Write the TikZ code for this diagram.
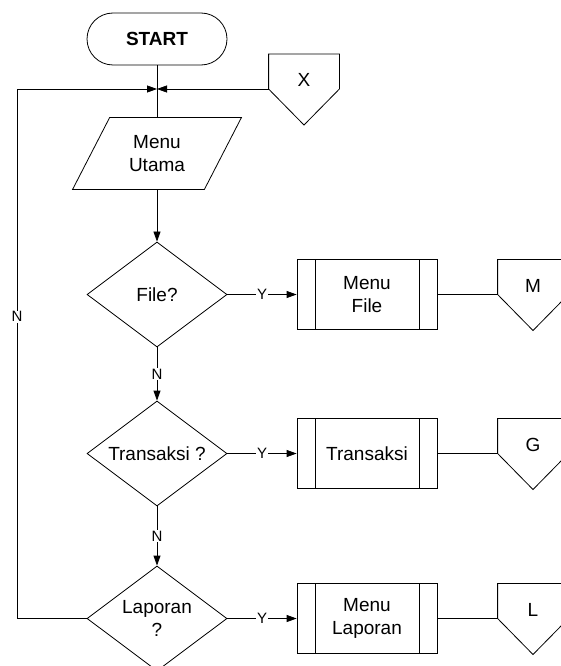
\documentclass[tikz,border=0pt]{standalone}
\usepackage{fontspec}
\setmainfont{Liberation Sans}
\usetikzlibrary{arrows.meta}
\usetikzlibrary{shapes.geometric}

\newcommand{\drawoffpage}[1]{\draw (#1.north west) -- (#1.north east) -- ([yshift=-35pt]#1.north east) -- ([yshift=-71pt]#1.north) -- ([yshift=-35pt]#1.north west) -- cycle;}

\begin{document}
\begin{tikzpicture}[x=1pt, y=-1pt,
>={Triangle[length=10pt,width=7pt]},
font=\fontsize{19}{22.5}\selectfont,
line width=0.8pt]
\tikzstyle{ar} = [->]
\tikzstyle{lbl} = [fill=white, inner sep=1pt, font=\fontsize{15}{17}\selectfont]
\tikzstyle{term} = [draw, rounded corners=26pt, minimum width=140pt, minimum height=52pt, font=\fontsize{19}{22.5}\selectfont\bfseries]
\tikzstyle{dec} = [draw, diamond, aspect=1.333, inner sep=0pt, minimum width=140pt, minimum height=105pt, align=center]
\tikzstyle{sub} = [draw, minimum width=140pt, minimum height=70pt, align=center,
path picture={\draw ([xshift=18pt]path picture bounding box.north west) -- ([xshift=18pt]path picture bounding box.south west)
([xshift=-18pt]path picture bounding box.north east) -- ([xshift=-18pt]path picture bounding box.south east);}]
\tikzstyle{conn} = [anchor=north, minimum width=70pt, minimum height=52pt, inner sep=0pt]
\useasboundingbox (0,0) rectangle (560,666);

\node[term](start) at (157,39) {START};
\node[align=center, minimum width=131pt, minimum height=71pt](menu) at (157,153.5) {Menu\\Utama};
\draw ([xshift=18.5pt]menu.north west) -- ([xshift=18.5pt]menu.north east) --
([xshift=-18.5pt]menu.south east) -- ([xshift=-18.5pt]menu.south west) -- cycle;

\node[dec](file) at (157,294.5) {File?};
\node[dec](trans) at (157,453.5) {Transaksi ?};
\node[dec](lap) at (157,618.5) {Laporan\\?};

\node[sub](mfile) at (367,294.5) {Menu\\File};
\node[sub](mtrans) at (367,453.5) {Transaksi};
\node[sub](mlap) at (367,618.5) {Menu\\Laporan};

% off-page connectors
\node[conn](x) at (304,54) {X};
\node[conn](m) at (533,259.5) {M};
\node[conn](g) at (533,418.5) {G};
\node[conn](l) at (533,583.5) {L};
\drawoffpage{x}
\drawoffpage{m}
\drawoffpage{g}
\drawoffpage{l}

\coordinate(join) at (157,89);
\coordinate(loopT) at (17,89);
\coordinate(loopB) at (17,618.5);

\draw (start) -- (menu);
\draw[ar] (menu) -- (file);
\draw[ar] ([yshift=-35pt]x.north west) -- (join);
\draw[ar] (lap) -- (loopB) -- node[lbl, pos=0.57] {N} (loopT) -- (join);

\draw[ar] (file) -- node[lbl] {N} (trans);
\draw[ar] (trans) -- node[lbl] {N} (lap);

\draw[ar] (file) -- node[lbl] {Y} (mfile);
\draw[ar] (trans) -- node[lbl] {Y} (mtrans);
\draw[ar] (lap) -- node[lbl] {Y} (mlap);

\draw (mfile) -- ([yshift=-35pt]m.north west);
\draw (mtrans) -- ([yshift=-35pt]g.north west);
\draw (mlap) -- ([yshift=-35pt]l.north west);
\end{tikzpicture}
\end{document}
